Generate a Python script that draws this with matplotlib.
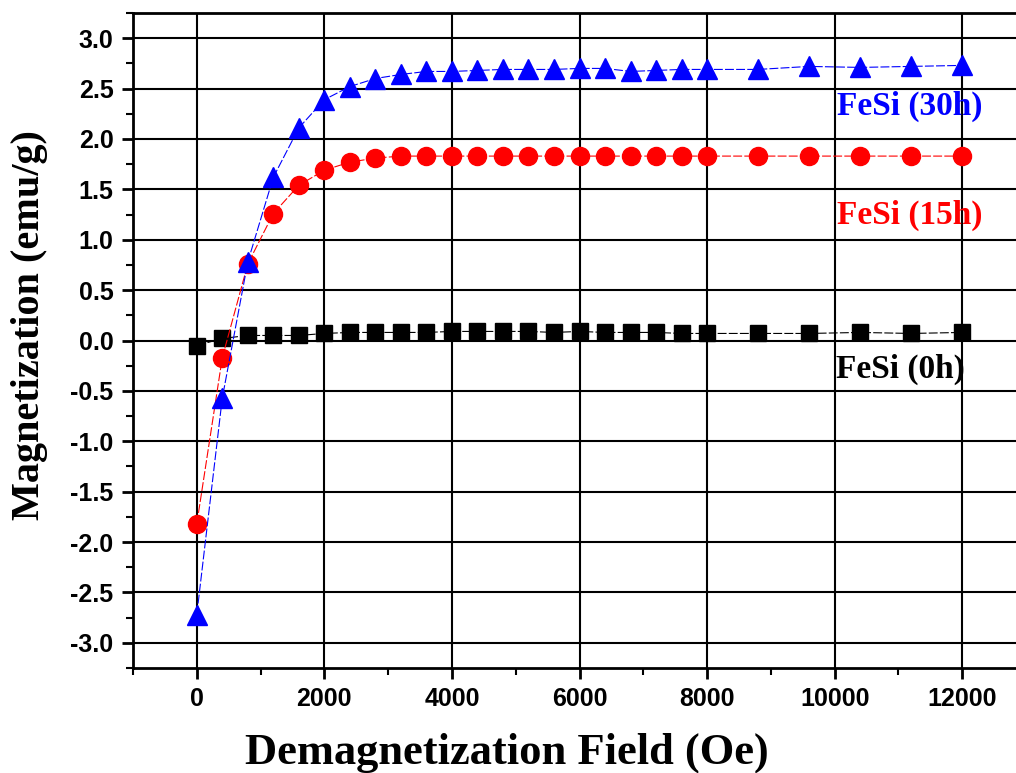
import matplotlib.pyplot as plt
import numpy as np
from matplotlib.ticker import MultipleLocator

field = [0, 400, 800, 1200, 1600, 2000, 2400, 2800, 3200, 3600, 4000, 4400, 4800,
         5200, 5600, 6000, 6400, 6800, 7200, 7600, 8000, 8800, 9600, 10400, 11200, 12000]

m_30h = [-2.72, -0.57, 0.78, 1.62, 2.11, 2.39, 2.52, 2.60, 2.64, 2.67, 2.67, 2.68, 2.69,
         2.69, 2.69, 2.70, 2.70, 2.67, 2.68, 2.69, 2.69, 2.69, 2.72, 2.71, 2.72, 2.73]
m_15h = [-1.82, -0.17, 0.76, 1.26, 1.54, 1.69, 1.77, 1.81, 1.83, 1.83, 1.83, 1.83, 1.83,
         1.83, 1.83, 1.83, 1.83, 1.83, 1.83, 1.83, 1.83, 1.83, 1.83, 1.83, 1.83, 1.83]
m_0h = [-0.05, 0.02, 0.05, 0.05, 0.05, 0.07, 0.08, 0.08, 0.08, 0.08, 0.09, 0.09, 0.09,
        0.09, 0.08, 0.09, 0.08, 0.08, 0.08, 0.07, 0.07, 0.07, 0.07, 0.08, 0.07, 0.08]

fig = plt.figure(figsize=(10.16, 7.73), dpi=100)
ax = fig.add_axes([133/1016, 105/773, 893/1016, 655/773])

ax.plot(field, m_0h, color="black", lw=0.8, ls=(0, (8, 2)), marker="s", ms=11, zorder=3)
ax.plot(field, m_15h, color="red", lw=0.8, ls=(0, (8, 2)), marker="o", ms=13, zorder=3)
ax.plot(field, m_30h, color="blue", lw=0.8, ls=(0, (8, 2)), marker="^", ms=14, zorder=3)

ax.set_xlim(-1000, 13000)
ax.set_ylim(-3.25, 3.25)
ax.xaxis.set_minor_locator(MultipleLocator(1000))
ax.yaxis.set_minor_locator(MultipleLocator(0.25))
ax.set_yticks(np.arange(-3.0, 3.01, 0.5))
ax.set_yticklabels(["%.1f" % v for v in np.arange(-3.0, 3.01, 0.5)])
ax.set_xticks(range(0, 12001, 2000))
ax.grid(True, which="major", color="black", lw=1.5)

for s in ax.spines.values():
    s.set_linewidth(2)
ax.spines["right"].set_visible(False)

ax.tick_params(which="major", direction="out", length=8, width=2, labelsize=18, pad=6)
ax.tick_params(which="minor", direction="out", length=5, width=1.5)
for lab in ax.get_xticklabels() + ax.get_yticklabels():
    lab.set_fontfamily("Liberation Sans")
    lab.set_fontweight("bold")

ax.set_xlabel("Demagnetization Field (Oe)", fontsize=32, fontweight="bold",
              fontfamily="Liberation Serif")
ax.set_ylabel("Magnetization (emu/g)", fontsize=29, fontweight="bold",
              fontfamily="Liberation Serif")
ax.xaxis.set_label_coords(0.419, -0.098)
ax.yaxis.set_label_coords(-0.095, 0.524)

ax.text(11170, 2.32, "FeSi (30h)", color="blue", fontsize=24, fontweight="bold",
        fontfamily="Liberation Serif", ha="center", va="center")
ax.text(11170, 1.24, "FeSi (15h)", color="red", fontsize=24, fontweight="bold",
        fontfamily="Liberation Serif", ha="center", va="center")
ax.text(11030, -0.29, "FeSi (0h)", color="black", fontsize=24, fontweight="bold",
        fontfamily="Liberation Serif", ha="center", va="center")

fig.savefig("out.png", dpi=100)
